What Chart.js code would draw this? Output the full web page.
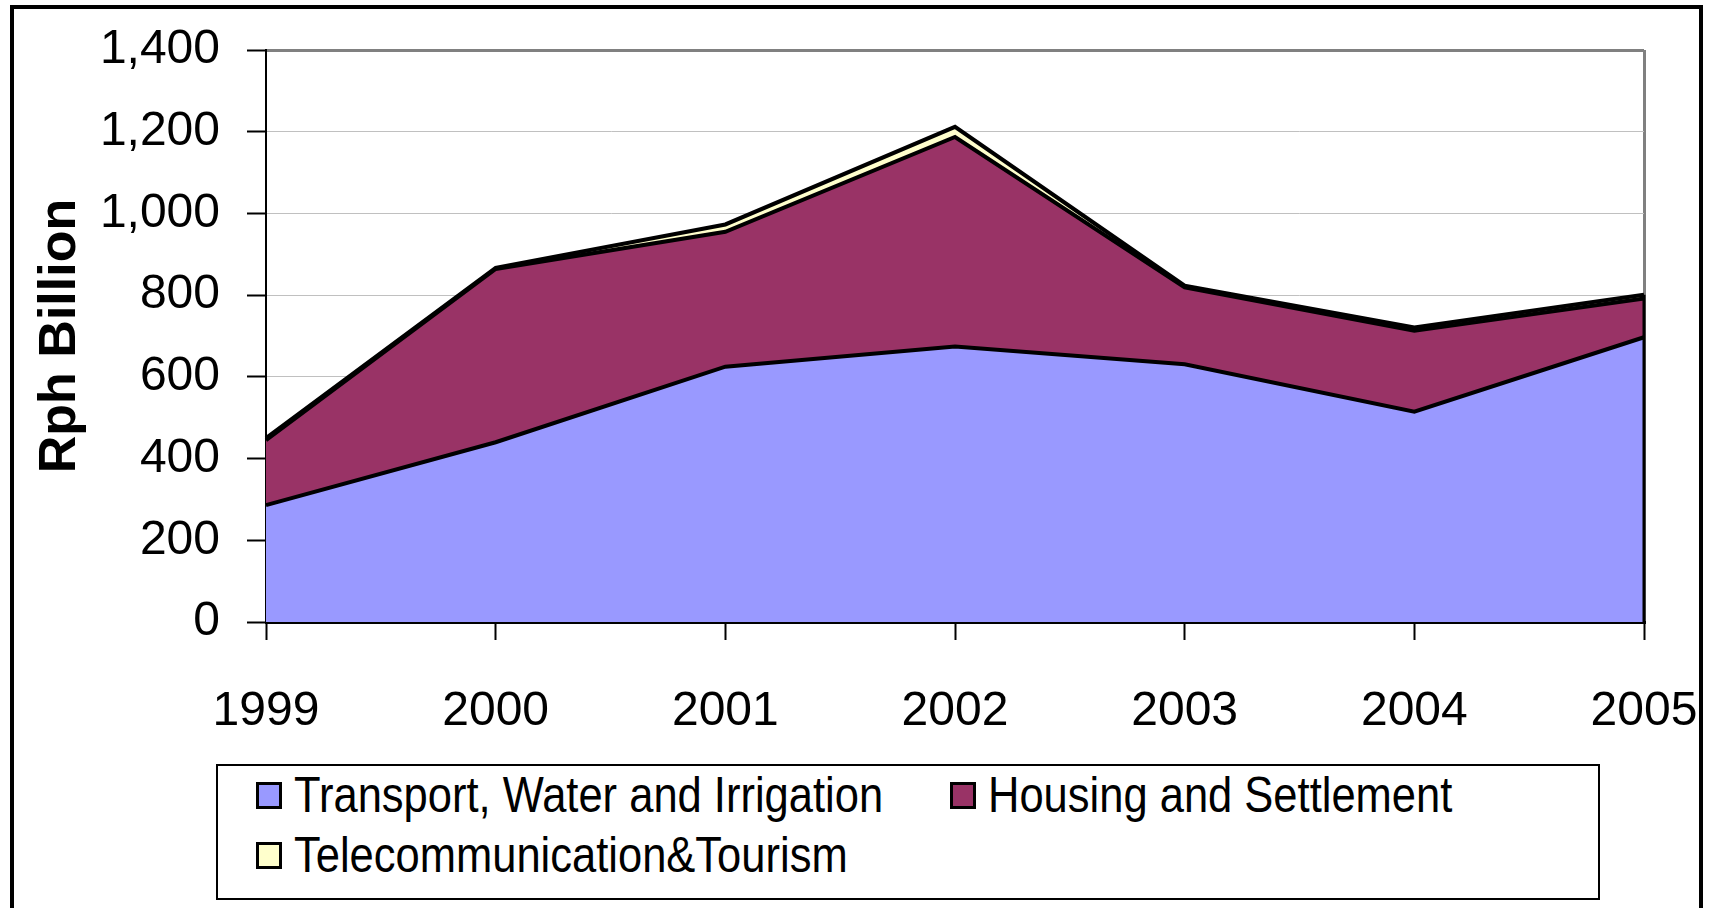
<!DOCTYPE html>
<html>
<head>
<meta charset="utf-8">
<script src="https://cdn.jsdelivr.net/npm/chart.js@4.4.0/dist/chart.umd.min.js"></script>
<style>
    html, body { margin: 0; padding: 0; background: #fff; overflow: hidden; }
    #wrap { position: relative; width: 1712px; height: 908px; }
    #frame { position: absolute; left: 10px; top: 5px; width: 1693px; height: 1000px; border: 4px solid #000; box-sizing: border-box; pointer-events: none; }
    #legend { position: absolute; left: 216px; top: 764px; width: 1384px; height: 136px; border: 2px solid #000; box-sizing: border-box; background: #fff; font-family: 'Liberation Sans', Arial, sans-serif; }
    .item { position: absolute; display: flex; align-items: center; white-space: nowrap; transform: translateY(-50%); }
    .swatch { width: 20px; height: 21px; border: 3px solid #000; }
    .label { font-size: 50px; color: #000; margin-left: 12px; transform: scaleX(0.87); transform-origin: left center; }
</style>
</head>
<body>
<div id="wrap">
    <canvas id="areaChart"></canvas>
    <div id="frame"></div>
    <div id="legend"></div>
</div>
<script>
const years = ['1999', '2000', '2001', '2002', '2003', '2004', '2005'];
const transport = [286, 440, 625, 674, 631, 515, 697];
const housing = [159, 424, 330, 513, 188, 198, 95];
const telecom = [5, 3, 18, 25, 4, 8, 9];

const seriesNames = ['Transport, Water and Irrigation', 'Housing and Settlement', 'Telecommunication&Tourism'];
const seriesColors = ['#9999ff', '#993366', '#ffffcc'];

const fontFamily = "'Liberation Sans', Arial, sans-serif";

function makeDataset(i, values) {
    return {
        label: seriesNames[i],
        data: values,
        backgroundColor: seriesColors[i],
        borderColor: '#000',
        borderWidth: 4,
        borderJoinStyle: 'miter',
        fill: i === 0 ? 'origin' : '-1',
        pointRadius: 0,
        tension: 0
    };
}

// black edge down the right side of the stacked areas, like the original
const rightEdge = {
    id: 'rightEdge',
    afterDatasetsDraw(chart) {
        const { ctx, scales: { x, y } } = chart;
        const last = years.length - 1;
        const total = transport[last] + housing[last] + telecom[last];
        const px = x.getPixelForValue(last);
        ctx.save();
        ctx.strokeStyle = '#000';
        ctx.lineWidth = 3;
        ctx.beginPath();
        ctx.moveTo(px, y.getPixelForValue(total));
        ctx.lineTo(px, y.getPixelForValue(0));
        ctx.stroke();
        ctx.restore();
    }
};

const ctxArea = document.getElementById('areaChart').getContext('2d');
document.getElementById('areaChart').parentNode.style.height = '908px';

const areaChart = new Chart(ctxArea, {
    type: 'line',
    data: {
        labels: years,
        datasets: [
            makeDataset(0, transport),
            makeDataset(1, housing),
            makeDataset(2, telecom)
        ]
    },
    plugins: [rightEdge],
    options: {
        responsive: true,
        maintainAspectRatio: false,
        animation: false,
        layout: { padding: { left: 0, right: 68, top: 50, bottom: 0 } },
        plugins: {
            legend: { display: false },
            tooltip: { enabled: false }
        },
        scales: {
            x: {
                grid: {
                    color: c => c.index === years.length - 1 ? '#808080' : 'rgba(0,0,0,0)',
                    lineWidth: 3,
                    tickLength: 18,
                    tickColor: '#000',
                    tickWidth: 2
                },
                border: { color: '#000', width: 3 },
                ticks: {
                    color: '#000',
                    font: { family: fontFamily, size: 48 },
                    padding: 43,
                    maxRotation: 0,
                    autoSkip: false
                },
                afterFit: s => {
                    s.height = 286;
                    s.paddingLeft = 0;
                    s.paddingRight = 0;
                }
            },
            y: {
                stacked: true,
                min: 0,
                max: 1400,
                grid: {
                    color: c => c.tick.value === 1400 ? '#808080' : '#c0c0c0',
                    lineWidth: c => c.tick.value === 1400 ? 3 : 1,
                    tickLength: 19,
                    tickColor: '#000',
                    tickWidth: 2
                },
                border: { color: '#000', width: 2 },
                ticks: {
                    stepSize: 200,
                    color: '#000',
                    font: { family: fontFamily, size: 48 },
                    padding: 27,
                    callback: v => v.toLocaleString('en-US')
                },
                title: {
                    display: true,
                    text: 'Rph Billion',
                    color: '#000',
                    font: { family: fontFamily, size: 52, weight: 'bold' },
                    padding: { top: 29, bottom: 0 }
                },
                afterFit: s => {
                    s.width = 266;
                    s.paddingTop = 0;
                    s.paddingBottom = 0;
                }
            }
        }
    }
});

// legend drawn as html so the two-row layout can sit inside its box
const legendSpots = [
    { left: 38, top: 29 },
    { left: 732, top: 29 },
    { left: 38, top: 89 }
];
const legendEl = document.getElementById('legend');
seriesNames.forEach((name, i) => {
    const item = document.createElement('div');
    item.className = 'item';
    item.style.left = legendSpots[i].left + 'px';
    item.style.top = legendSpots[i].top + 'px';
    item.innerHTML = `<div class="swatch" style="background:${seriesColors[i]}"></div><div class="label">${name}</div>`;
    legendEl.appendChild(item);
});
</script>
</body>
</html>
